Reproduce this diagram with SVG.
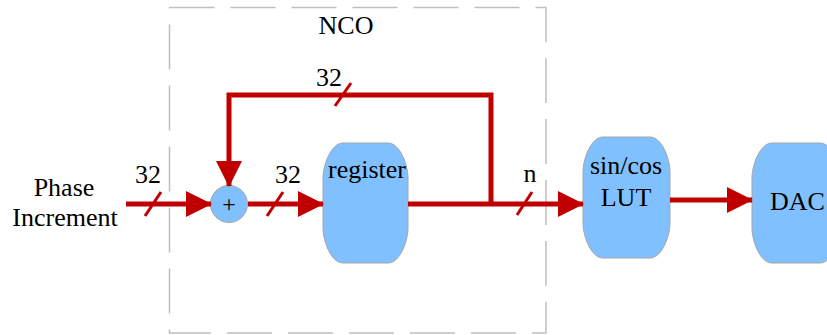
<svg xmlns="http://www.w3.org/2000/svg" width="827" height="335" viewBox="0 0 827 335" font-family="'Liberation Serif', 'Times New Roman', serif">
<style>
text{font-family:'Liberation Serif','Times New Roman',serif;font-size:26px;fill:#000}
.w{stroke:#C00000;stroke-width:5;fill:none;stroke-linejoin:miter}
.s{stroke:#C00000;stroke-width:3;fill:none}
.blk{fill:#80C0FF;stroke:#A6A6A6;stroke-width:1}
</style>
<defs>
<marker id="ah" viewBox="0 0 26 26" refX="25" refY="13" markerWidth="26" markerHeight="26" markerUnits="userSpaceOnUse" orient="auto">
<path d="M0,0 L26,13 L0,26 Z" fill="#C00000"/>
</marker>
</defs>
<g id="nco">
<rect x="169.5" y="7.5" width="376.5" height="325.5" fill="none" stroke="#BFBFBF" stroke-width="1.5" stroke-dasharray="45 16"/>
<text x="346" y="34" text-anchor="middle">NCO</text>
</g>
<g id="input">
<text x="64" y="196" text-anchor="middle">Phase</text>
<text x="65" y="226" text-anchor="middle">Increment</text>
</g>
<g id="adder">
<circle class="blk" cx="229" cy="204" r="18.5"/>
<text x="229" y="212" text-anchor="middle" style="font-size:24px">+</text>
</g>
<g id="register">
<path class="blk" d="M343,143 L388,143 C400,143 408,165 408,178 L408,228 C408,241 400,263 388,263 L343,263 C331,263 323,241 323,228 L323,178 C323,165 331,143 343,143 Z"/>
<text x="367" y="178" text-anchor="middle">register</text>
</g>
<g id="lut">
<path class="blk" d="M603,137 L650,137 C662,137 670,159 670,172 L670,223 C670,236 662,258 650,258 L603,258 C591,258 583,236 583,223 L583,172 C583,159 591,137 603,137 Z"/>
<text x="626" y="174" text-anchor="middle">sin/cos</text>
<text x="626" y="206" text-anchor="middle">LUT</text>
</g>
<g id="dac">
<path class="blk" d="M772,143 L820,143 C832,143 840,165 840,178 L840,228 C840,241 832,263 820,263 L772,263 C760,263 752,241 752,228 L752,178 C752,165 760,143 772,143 Z"/>
<text x="770" y="210">DAC</text>
</g>
<g id="connectors">
<line class="w" x1="126" y1="204" x2="211" y2="204" marker-end="url(#ah)"/>
<line class="s" x1="145" y1="216" x2="161" y2="192"/>
<text x="148" y="183" text-anchor="middle">32</text>
<line class="w" x1="248" y1="204" x2="323" y2="204" marker-end="url(#ah)"/>
<line class="s" x1="267" y1="216" x2="283" y2="192"/>
<text x="288" y="183" text-anchor="middle">32</text>
<line class="w" x1="408" y1="204" x2="583" y2="204" marker-end="url(#ah)"/>
<line class="s" x1="517" y1="215" x2="532" y2="192"/>
<text x="530" y="182" text-anchor="middle">n</text>
<polyline class="w" points="491,204 491,95 229,95 229,186" marker-end="url(#ah)"/>
<line class="s" x1="335" y1="106" x2="351" y2="83"/>
<text x="329" y="86" text-anchor="middle">32</text>
<line class="w" x1="670" y1="200" x2="752" y2="200" marker-end="url(#ah)"/>
</g>
</svg>
